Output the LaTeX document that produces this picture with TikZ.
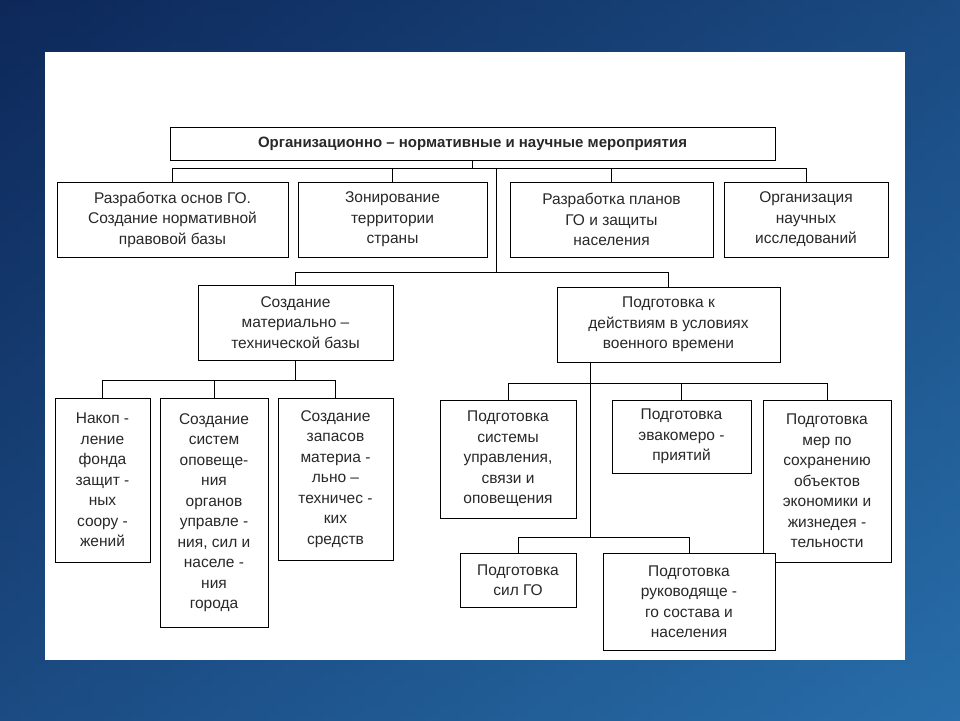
\documentclass[tikz,border=0pt]{standalone}
\usepackage{fontspec}
\setmainfont{Liberation Sans}
\usetikzlibrary{positioning}
\definecolor{bgdark}{RGB}{14,40,90}
\definecolor{bglight}{RGB}{40,110,170}
\definecolor{txt}{RGB}{40,40,40}
\tikzset{
  box/.style={draw=black, fill=white, align=center, text=txt, inner sep=2pt,
    font=\fontsize{15.5}{20.5}\selectfont},
  link/.style={draw=black, line width=0.7pt}
}
\begin{document}
\begin{tikzpicture}[x=1pt, y=-1pt]
  \shade[left color=bgdark, right color=bglight] (0,0) rectangle (960,720);
  \shade[top color=bgdark, bottom color=bglight, opacity=0.5] (0,0) rectangle (960,720);
  \fill[white] (45,52) rectangle (905,660);
  \useasboundingbox (0,0) rectangle (960,720);

  \node[box, minimum width=605, minimum height=33, font=\bfseries\fontsize{15}{18}\selectfont] (top) at (472.5,143.5) {Организационно -- нормативные и научные мероприятия};

  \node[box, minimum width=231, minimum height=75] (a1) at (172.5,219.5) {Разработка основ ГО.\\Создание нормативной\\правовой базы};
  \node[box, minimum width=189, minimum height=75] (a2) at (392.5,219.5) {Зонирование\\территории\\страны};
  \node[box, minimum width=203, minimum height=75] (a3) at (611.5,219.5) {Разработка планов\\ГО и защиты\\населения};
  \node[box, minimum width=164, minimum height=75] (a4) at (806,219.5) {Организация\\научных\\исследований};

  \node[box, minimum width=195, minimum height=75] (m1) at (295.5,322.5) {Создание\\материально --\\технической базы};
  \node[box, minimum width=223, minimum height=75] (m2) at (668.5,324.5) {Подготовка к\\действиям в условиях\\военного времени};

  \node[box, minimum width=95, minimum height=164] (c1) at (102.5,480) {Накоп -\\ление\\фонда\\защит -\\ных\\соору -\\жений};
  \node[box, minimum width=108, minimum height=229] (c2) at (214,512.5) {Создание\\систем\\оповеще-\\ния\\органов\\управле -\\ния, сил и\\населе -\\ния\\города};
  \node[box, minimum width=115, minimum height=162] (c3) at (335.5,479) {Создание\\запасов\\материа -\\льно --\\техничес -\\ких\\средств};

  \node[box, minimum width=136, minimum height=118] (d1) at (508,459) {Подготовка\\системы\\управления,\\связи и\\оповещения};
  \node[box, minimum width=139, minimum height=73] (d2) at (681.5,436.5) {Подготовка\\эвакомеро -\\приятий};
  \node[box, minimum width=128, minimum height=162] (d3) at (827,481) {Подготовка\\мер по\\сохранению\\объектов\\экономики и\\жизнедея -\\тельности};

  \node[box, minimum width=116, minimum height=54] (e1) at (518,580) {Подготовка\\сил ГО};
  \node[box, minimum width=172, minimum height=97] (e2) at (689,601.5) {Подготовка\\руководяще -\\го состава и\\населения};

  \coordinate (t1) at (496,168);
  \coordinate (j1) at (496,272);
  \coordinate (r1) at (590,362);
  \coordinate (r2) at (590,383);
  \coordinate (r3) at (590,537);

  \draw[link] (top.south) -- ++(0,8) -| (a1.north);
  \draw[link] (top.south) -- ++(0,8) -| (a2.north);
  \draw[link] (top.south) -- ++(0,8) -| (a3.north);
  \draw[link] (top.south) -- ++(0,8) -| (a4.north);
  \draw[link] (t1) -- (j1);
  \draw[link] (j1) -| (m1.north);
  \draw[link] (j1) -| (m2.north);

  \draw[link] (m1.south) -- ++(0,20) -| (c1.north);
  \draw[link] (m1.south) -- ++(0,20) -| (c2.north);
  \draw[link] (m1.south) -- ++(0,20) -| (c3.north);

  \draw[link] (r1) -- (r3);
  \draw[link] (r2) -| (d1.north);
  \draw[link] (r2) -| (d2.north);
  \draw[link] (r2) -| (d3.north);
  \draw[link] (r3) -| (e1.north);
  \draw[link] (r3) -| (e2.north);
\end{tikzpicture}
\end{document}
